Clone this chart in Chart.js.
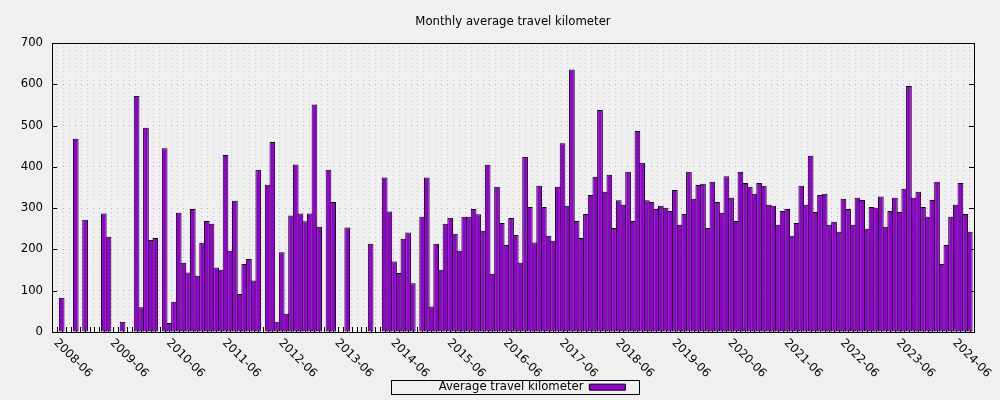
<!DOCTYPE html>
<html>
<head>
<meta charset="utf-8">
<script src="https://cdn.jsdelivr.net/npm/chart.js@4.4.0/dist/chart.umd.min.js"></script>
<style>
    html, body { margin: 0; padding: 0; background: #f0f0f0; }
</style>
</head>
<body>
<canvas id="canvas" width="1000" height="400"></canvas>
<script>
// one value per month starting at 2008-06, null = no trips that month
const firstYear = 2008;
const firstMonth = 6;
const kilometers = [
    83, null, null, 468, null, 272, null, null, null, 287, 231, null,
    null, 25, null, null, 572, 60, 495, 223, 228, null, 445, 22,
    73, 289, 168, 144, 298, 136, 216, 269, 262, 156, 151, 429,
    197, 318, 92, 165, 177, 125, 393, null, 357, 460, 25, 193,
    44, 282, 406, 287, 268, 287, 551, 255, null, 393, 315, null,
    null, 253, null, null, null, null, 214, null, null, 374, 292, 171,
    143, 226, 241, 118, null, 279, 374, 62, 214, 151, 262, 277,
    238, 197, 279, 279, 298, 285, 245, 405, 141, 352, 264, 211,
    276, 235, 168, 424, 303, 217, 354, 303, 233, 221, 352, 457,
    306, 636, 269, 228, 286, 332, 376, 538, 340, 381, 252, 319,
    308, 388, 269, 487, 410, 319, 315, 298, 306, 301, 293, 344,
    260, 286, 388, 323, 356, 359, 252, 364, 315, 289, 377, 325,
    269, 388, 361, 352, 335, 361, 354, 308, 306, 260, 293, 298,
    233, 264, 354, 308, 427, 291, 332, 335, 260, 267, 243, 323,
    298, 260, 325, 320, 250, 303, 301, 328, 255, 293, 325, 291,
    347, 596, 325, 340, 303, 279, 320, 364, 165, 211, 279, 308,
    361, 286, 243
];
const tickLabels = [
    '2008-06', '2009-06', '2010-06', '2011-06', '2012-06', '2013-06',
    '2014-06', '2015-06', '2016-06', '2017-06', '2018-06', '2019-06',
    '2020-06', '2021-06', '2022-06', '2023-06', '2024-06'
];
const seriesName = 'Average travel kilometer';
const chartTitle = 'Monthly average travel kilometer';

const fontFamily = '"DejaVu Sans", sans-serif';
const fontSize = 11.7;

function monthIndex(label) {
    const parts = label.split('-');
    return (parseInt(parts[0]) - firstYear) * 12 + parseInt(parts[1]) - firstMonth;
}

Chart.defaults.font.family = fontFamily;
Chart.defaults.font.size = fontSize;
Chart.defaults.color = '#000';

// gnuplot look: inward tics, closed frame, rotated date labels, boxed key
const gnuplotLook = {
    id: 'gnuplotLook',
    afterLayout(chart) {
        // title and key are centred on the plot, not on the canvas
        chart.titleBlock.left += 26;
        chart.titleBlock.right += 26;
        chart.legend.left += 45;
        chart.legend.right += 45;
        chart.legend.top += 3;
        chart.legend.bottom += 3;
    },
    beforeDatasetsDraw(chart) {
        const {ctx, chartArea: a, scales: {x, y}} = chart;
        ctx.save();
        ctx.strokeStyle = '#000';
        ctx.lineWidth = 1;
        ctx.beginPath();
        for (let i = Math.ceil(x.min); i <= x.max; i++) {
            const px = Math.round(x.getPixelForValue(i)) + 0.5;
            ctx.moveTo(px, a.bottom);
            ctx.lineTo(px, a.bottom - 5);
        }
        y.ticks.filter(t => t.value % 100 === 0).forEach(t => {
            const py = Math.round(y.getPixelForValue(t.value)) + 0.5;
            ctx.moveTo(a.left, py);
            ctx.lineTo(a.left + 5, py);
            ctx.moveTo(a.right, py);
            ctx.lineTo(a.right - 5, py);
        });
        ctx.stroke();
        ctx.restore();
    },
    afterDatasetsDraw(chart) {
        const {ctx, chartArea: a} = chart;
        ctx.save();
        ctx.strokeStyle = '#000';
        ctx.lineWidth = 1;
        ctx.strokeRect(Math.round(a.left) + 0.5, Math.round(a.top) + 0.5,
            Math.round(a.right - a.left), Math.round(a.bottom - a.top));
        ctx.restore();
    },
    afterDraw(chart) {
        const {ctx, chartArea: a, scales: {x}} = chart;
        ctx.save();
        ctx.font = fontSize + 'px ' + fontFamily;
        ctx.fillStyle = '#000';
        ctx.textAlign = 'left';
        ctx.textBaseline = 'middle';
        tickLabels.forEach(label => {
            const px = x.getPixelForValue(monthIndex(label));
            ctx.save();
            ctx.translate(px - 6, a.bottom + 9);
            ctx.rotate(Math.PI / 4);
            ctx.fillText(label, 0, 0);
            ctx.restore();
        });

        // frame round the key
        const hb = chart.legend.legendHitBoxes[0];
        if (hb) {
            const cy = hb.top + hb.height / 2;
            ctx.strokeStyle = '#000';
            ctx.lineWidth = 1;
            const left = Math.round(hb.left - 48) + 0.5;
            const right = Math.round(hb.left + hb.width + 14) + 0.5;
            ctx.strokeRect(left, Math.round(cy - 7) + 0.5, right - left, 14);
        }
        ctx.restore();
    }
};

const points = kilometers.map((v, i) => ({x: i, y: v}));

new Chart(document.getElementById('canvas'), {
    type: 'bar',
    data: {
        datasets: [{
            label: seriesName,
            data: points,
            backgroundColor: '#9400d3',
            borderColor: '#000',
            borderWidth: 1,
            borderSkipped: false,
            inflateAmount: 0,
            barPercentage: 1.214,
            categoryPercentage: 1
        }]
    },
    options: {
        responsive: false,
        animation: false,
        layout: { padding: { left: 0, right: 26, top: 0, bottom: 0 } },
        plugins: {
            title: {
                display: true,
                text: chartTitle,
                font: { size: fontSize, weight: 'normal' },
                padding: { top: 15, bottom: 14 }
            },
            legend: {
                position: 'bottom',
                rtl: true,
                labels: {
                    boxWidth: 36,
                    boxHeight: 6,
                    padding: 10,
                    font: { size: fontSize }
                }
            },
            tooltip: { enabled: false }
        },
        scales: {
            x: {
                type: 'linear',
                offset: false,
                min: -2.07,
                max: 194.9,
                grid: { display: false },
                border: { display: false },
                ticks: { display: false },
                afterFit: s => { s.height = 36.3; }
            },
            y: {
                min: 0,
                max: 700,
                afterFit: s => { s.width = 52; },
                border: { display: false, dash: [1, 5], dashOffset: 1 },
                grid: {
                    drawTicks: false,
                    color: c => c.tick && c.tick.value % 100 === 0 ? '#a8a8a8' : '#c8c8c8'
                },
                ticks: {
                    stepSize: 10,
                    autoSkip: false,
                    padding: 9,
                    callback: v => v % 100 === 0 ? v : ''
                }
            }
        }
    },
    plugins: [gnuplotLook]
});
</script>
</body>
</html>
